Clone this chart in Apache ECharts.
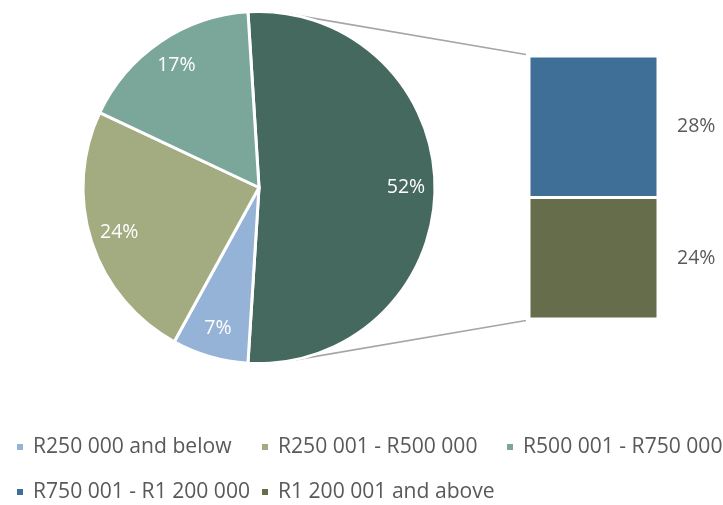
<!DOCTYPE html>
<html>
<head>
<meta charset="utf-8">
<script src="https://cdn.jsdelivr.net/npm/echarts@6/dist/echarts.min.js"></script>
<style>
  html, body { margin: 0; padding: 0; background: #fff; }
  #chart { width: 723px; height: 505px; }
</style>
</head>
<body>
<div id="chart"></div>
<script>
// Household income bands: pie slices and the split-out bar for the upper bands
const pieCategories = ['R250 000 and below', 'R250 001 - R500 000', 'R500 001 - R750 000'];
const pieValues = [7, 24, 17];
const barCategories = ['R1 200 001 and above', 'R750 001 - R1 200 000']; // bottom to top
const barValues = [24, 28];
const otherName = 'R750 001 and above';

const pieColors = ['#95B3D7', '#A3AB80', '#7BA79A'];
const otherColor = '#46695F';
const barColors = ['#656D4A', '#3F6E96'];
const legendOrder = [
  'R250 000 and below', 'R250 001 - R500 000', 'R500 001 - R750 000',
  'R750 001 - R1 200 000', 'R1 200 001 and above'
];

const otherValue = barValues.reduce((a, b) => a + b, 0);
const total = otherValue + pieValues.reduce((a, b) => a + b, 0);

// layout
const FONT = '"Open Sans", sans-serif';
const pieCenter = [259, 187.5];
const pieRadius = 176;
const barRect = { left: 529, top: 56, width: 129, height: 263 };
// the "other" slice is centred on the right-hand side of the pie
const startAngle = otherValue / total * 180;

const pieData = [{ name: otherName, value: otherValue, itemStyle: { color: otherColor } }]
  .concat(pieCategories.map((n, i) => ({ name: n, value: pieValues[i], itemStyle: { color: pieColors[i] } })));

// connector lines: tangents from the bar's left corners to the pie circle
function tangentPoint(px, py, side) {
  const vx = px - pieCenter[0], vy = py - pieCenter[1];
  const d = Math.sqrt(vx * vx + vy * vy);
  const phi = Math.atan2(vy, vx);
  const alpha = Math.acos(pieRadius / d);
  const a = phi + side * alpha;
  return [pieCenter[0] + pieRadius * Math.cos(a), pieCenter[1] + pieRadius * Math.sin(a)];
}
const barTopLeft = [barRect.left, barRect.top];
const barBotLeft = [barRect.left, barRect.top + barRect.height];
const topTan = tangentPoint(barTopLeft[0], barTopLeft[1], -1);
const botTan = tangentPoint(barBotLeft[0], barBotLeft[1], 1);

const legendCols = [15, 260, 505];
const legendRows = [436.5, 481.5];
const legends = legendOrder.map((name, i) => ({
  data: [name],
  left: legendCols[i % 3],
  top: legendRows[Math.floor(i / 3)],
  padding: 0,
  icon: 'rect',
  itemWidth: 8,
  itemHeight: 8,
  selectedMode: false,
  textStyle: { fontFamily: FONT, fontSize: 21.1, color: '#595959', padding: [0, 0, 0, 4] }
}));

const chart = echarts.init(document.getElementById('chart'), null, { renderer: 'canvas' });
chart.setOption({
  animation: false,
  backgroundColor: '#ffffff',
  legend: legends,
  grid: { left: barRect.left, top: barRect.top, width: barRect.width, height: barRect.height, containLabel: false },
  xAxis: { type: 'category', data: [''], show: false },
  yAxis: { type: 'value', min: 0, max: otherValue, show: false },
  graphic: [
    { type: 'line', z: 0, shape: { x1: topTan[0], y1: topTan[1], x2: barTopLeft[0] - 3, y2: barTopLeft[1] - 1.5 },
      style: { stroke: '#A6A6A6', lineWidth: 1.75 } },
    { type: 'line', z: 0, shape: { x1: botTan[0], y1: botTan[1], x2: barBotLeft[0] - 3, y2: barBotLeft[1] + 1.5 },
      style: { stroke: '#A6A6A6', lineWidth: 1.75 } }
  ],
  series: [
    {
      type: 'pie',
      z: 3,
      center: pieCenter,
      radius: [0, pieRadius],
      startAngle: startAngle,
      clockwise: true,
      avoidLabelOverlap: false,
      label: { show: false },
      labelLine: { show: false },
      itemStyle: { borderColor: '#ffffff', borderWidth: 3 },
      emphasis: { disabled: true },
      data: pieData
    },
    {
      // transparent ring that places the percentage labels toward the rim
      type: 'pie',
      z: 4,
      silent: true,
      center: pieCenter,
      radius: [112, pieRadius],
      startAngle: startAngle,
      clockwise: true,
      avoidLabelOverlap: false,
      itemStyle: { color: 'rgba(0,0,0,0)', borderWidth: 0 },
      label: { show: true, position: 'inside', formatter: '{c}%', color: '#ffffff', fontFamily: FONT, fontSize: 19.5 },
      labelLine: { show: false },
      emphasis: { disabled: true },
      data: pieData.map(d => ({ name: d.name, value: d.value }))
    }
  ].concat(barCategories.map((name, i) => ({
    type: 'bar',
    name: name,
    stack: 'other',
    barWidth: '100%',
    data: [barValues[i]],
    itemStyle: { color: barColors[i], borderColor: '#ffffff', borderWidth: 1.5 },
    label: { show: true, position: 'right', distance: 19, formatter: '{c}%', color: '#595959', fontFamily: FONT, fontSize: 19.5 },
    emphasis: { disabled: true }
  })))
});
</script>
</body>
</html>
